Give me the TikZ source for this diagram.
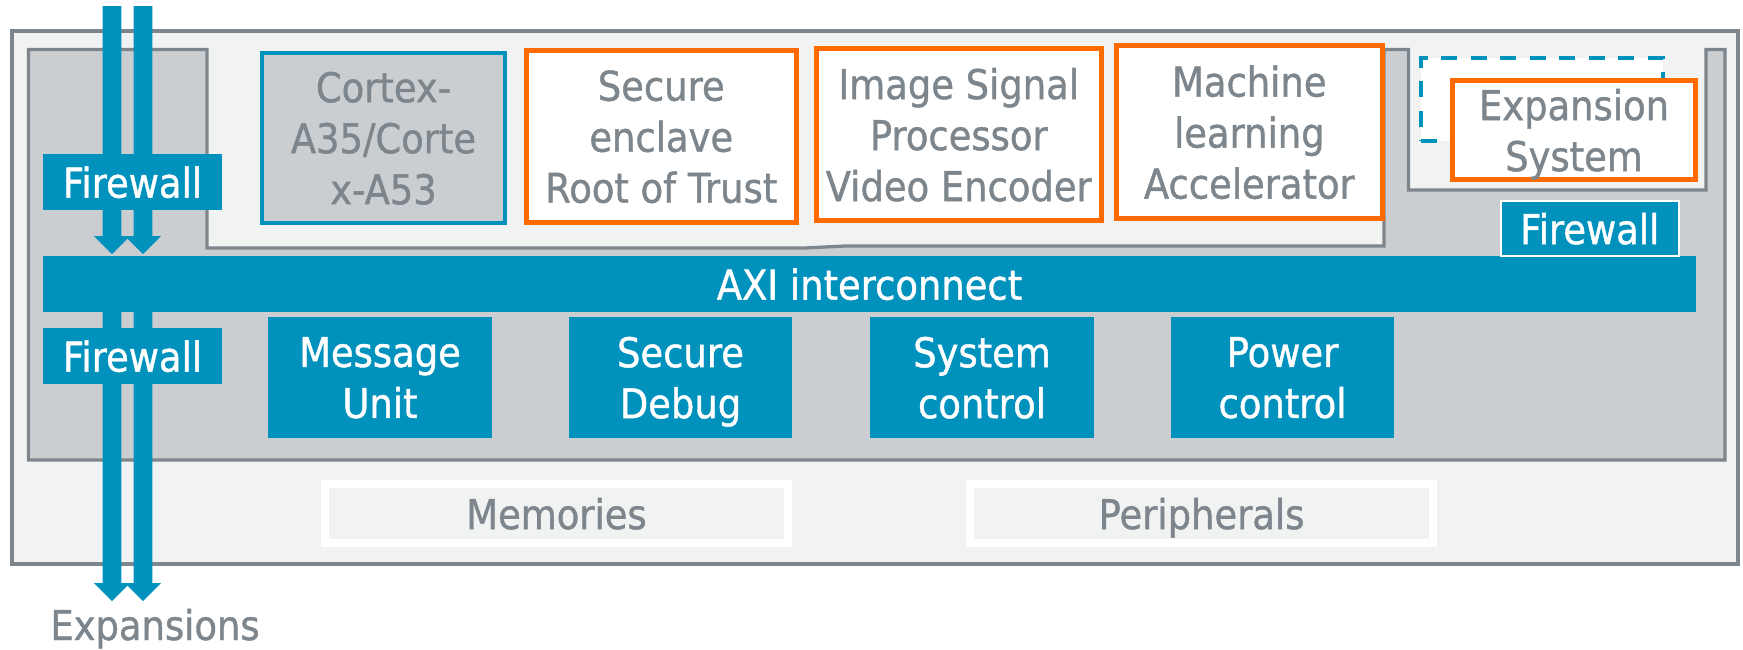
\documentclass[tikz,border=0pt]{standalone}
\usepackage{fontspec}
\setmainfont{DejaVu Sans}[FakeStretch=0.9, FakeBold=1]
\usetikzlibrary{calc}
\definecolor{armblue}{HTML}{0091BD}
\definecolor{armgrey}{HTML}{7D868C}
\definecolor{panel}{HTML}{CBCED1}
\definecolor{paper}{HTML}{F1F2F2}
\definecolor{armorange}{HTML}{FF6B00}
\newcommand\labelfont{\fontsize{41}{51}\selectfont}
% thick block arrow from #1 (tail) down to #2 (tip)
\newcommand\fatarrow[2]{%
  \fill[flow] let \p1=(#1), \p2=(#2) in
    (\x1-9.3pt,\y1) -- (\x1+9.3pt,\y1) -- (\x1+9.3pt,\y2+18pt) -- (\x1+18pt,\y2+18pt)
    -- (\x1,\y2) -- (\x1-18pt,\y2+18pt) -- (\x1-9.3pt,\y2+18pt) -- cycle;}

\begin{document}
\begin{tikzpicture}[x=1pt,y=-1pt,
  every node/.style={inner sep=0pt, outer sep=0pt, align=center, font=\labelfont, text depth=0pt},
  bluebox/.style={fill=armblue, text=white},
  corebox/.style={draw=armblue, line width=4pt, fill=panel, text=armgrey},
  ipbox/.style={draw=armorange, line width=5pt, fill=white, text=armgrey},
  slotbox/.style={draw=armblue, line width=4pt, fill=white, dash pattern=on 16pt off 13.5pt},
  storebox/.style={draw=white, line width=8pt, fill=paper, text=armgrey},
  chipframe/.style={draw=armgrey, line width=4pt, fill=paper},
  secarea/.style={draw=armgrey, line width=3.3pt, fill=panel, line join=miter},
  flow/.style={fill=armblue}]
\useasboundingbox (0,0) rectangle (1743,649);

% chip outline
\draw[chipframe] (11.5,30.5) rectangle (1738,564);
% secure subsystem area
\draw[secarea] (28.5,49.5) -- (207,49.5) -- (207,248) -- (805,248) -- (845,246) -- (1384,246)
  -- (1384,49.5) -- (1408.5,49.5) -- (1408.5,190) -- (1706,190) -- (1706,49.5)
  -- (1725,49.5) -- (1725,460) -- (28.5,460) -- cycle;

% memories and peripherals
\node[storebox, minimum width=463pt, minimum height=59pt] (mem) at (556.5,513.5) {Memories};
\node[storebox, minimum width=463pt, minimum height=59pt] (per) at (1201.5,513.5) {Peripherals};

% compute and IP blocks
\node[corebox, minimum width=243pt, minimum height=170pt] (cpu) at (383.5,138) {Cortex-\\A35/Corte\\x-A53};
\node[ipbox, minimum width=270.5pt, minimum height=172pt] (enc) at (661.25,136.5) {Secure\\enclave\\Root of Trust};
\node[ipbox, minimum width=285.5pt, minimum height=172pt] (isp) at (958.75,134.5) {Image Signal\\Processor\\Video Encoder};
\node[ipbox, minimum width=266.4pt, minimum height=173pt] (mla) at (1249.3,132) {Machine\\learning\\Accelerator};
\node[slotbox, minimum width=242pt, minimum height=83pt] (slot) at (1542,99.5) {};
\node[ipbox, minimum width=243pt, minimum height=99pt] (exp) at (1574,130) {Expansion\\System};

% interconnect
\node[bluebox, minimum width=1653pt, minimum height=56pt] (axi) at (869.5,284) {AXI interconnect};

% expansion ports
\coordinate (inA) at (112,6);
\coordinate (inB) at (143,6);
\coordinate (outA) at (112,601);
\coordinate (outB) at (143,601);
\fatarrow{inA}{[yshift=2pt]inA |- axi.north}
\fatarrow{inB}{[yshift=2pt]inB |- axi.north}
\fatarrow{outA |- axi.south}{outA}
\fatarrow{outB |- axi.south}{outB}

% firewalls
\node[bluebox, minimum width=179pt, minimum height=56pt] (fwin) at (132.5,182) {Firewall};
\node[bluebox, minimum width=179pt, minimum height=56pt] (fwout) at (132.5,356) {Firewall};
\node[bluebox, draw=white, line width=2pt, minimum width=178.5pt, minimum height=55pt] (fwexp) at (1589.75,228.5) {Firewall};

% system blocks
\node[bluebox, minimum width=224pt, minimum height=121pt] (msg) at (380,377.5) {Message\\Unit};
\node[bluebox, minimum width=223pt, minimum height=121pt] (dbg) at (680.5,377.5) {Secure\\Debug};
\node[bluebox, minimum width=224pt, minimum height=121pt] (sys) at (982,377.5) {System\\control};
\node[bluebox, minimum width=223pt, minimum height=121pt] (pwr) at (1282.5,377.5) {Power\\control};

\node[text=armgrey, anchor=base] (ext) at (155,640) {Expansions};
\end{tikzpicture}
\end{document}
